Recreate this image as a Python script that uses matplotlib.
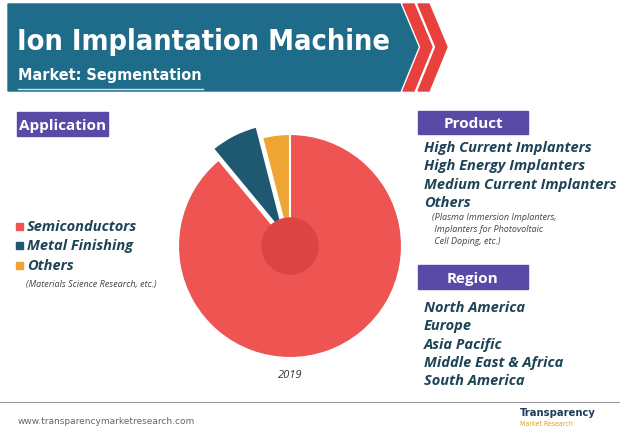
import matplotlib
matplotlib.use("Agg")
import matplotlib.pyplot as plt
from matplotlib.patches import Polygon, Rectangle, Circle

# data
SEGMENTS = ["Others", "Metal Finishing", "Semiconductors"]
SHARES = [4, 7, 89]
EXPLODE = [0, 0.11, 0]
SEG_COLOURS = ["#eea534", "#1f5871", "#ee5451"]

PRODUCTS = ["High Current Implanters", "High Energy Implanters",
            "Medium Current Implanters", "Others"]
PRODUCT_NOTE = ["(Plasma Immersion Implanters,", " Implanters for Photovoltaic",
                " Cell Doping, etc.)"]
REGIONS = ["North America", "Europe", "Asia Pacific", "Middle East & Africa", "South America"]
LEGEND_ITEMS = ["Semiconductors", "Metal Finishing", "Others"]
LEGEND_COLOURS = ["#ee5451", "#1f5871", "#eea534"]

TEAL = "#1e6c8a"
TEXT = "#1d4356"
PURPLE = "#5a4aa8"
W, H = 620, 439

fig = plt.figure(figsize=(W / 100, H / 100), dpi=100)
ax = fig.add_axes([0, 0, 1, 1])
ax.set_xlim(0, W)
ax.set_ylim(H, 0)
ax.axis("off")

# header banner
ax.add_patch(Polygon([(8, 5), (400, 5), (418, 48), (400, 92), (8, 92)], color=TEAL))
for x0 in (403, 418):
    ax.add_patch(Polygon([(x0, 5), (x0 + 11, 5), (x0 + 29, 48), (x0 + 11, 92),
                          (x0, 92), (x0 + 18, 48)], color="#e8403c"))
title_font = dict(family="DejaVu Sans", stretch="condensed", weight="bold", color="white")
renderer = fig.canvas.get_renderer()


def fit_text(x, y, s, width_px, size):
    t = ax.text(x, y, s, fontsize=size, **title_font)
    w = t.get_window_extent(renderer).width
    t.set_fontsize(size * width_px / w)
    return t


fit_text(17, 50, "Ion Implantation Machine", 373, 30)
fit_text(18, 80, "Market: Segmentation", 183, 17)
ax.plot([18, 203], [90, 90], color="#d0e4ec", lw=1)


def label_box(x, y, w, h, txt):
    ax.add_patch(Rectangle((x, y), w, h, color=PURPLE))
    ax.text(x + w / 2, y + h / 2 + 1, txt, color="white", fontsize=11,
            fontweight="bold", ha="center", va="center", family="Open Sans")


label_box(17, 113, 91, 24, "Application")
label_box(418, 112, 110, 23, "Product")
label_box(418, 266, 110, 24, "Region")

item_font = dict(family="Open Sans", style="italic", weight="bold", color=TEXT)
for i, name in enumerate(PRODUCTS):
    ax.text(424, 148 + i * 18.5, name, fontsize=10.5, va="center", **item_font)
for i, line in enumerate(PRODUCT_NOTE):
    ax.text(432, 218 + i * 12, line, fontsize=6.5, style="italic", color="#444444",
            va="center", family="Open Sans")
for i, name in enumerate(REGIONS):
    ax.text(424, 308 + i * 18.3, name, fontsize=10.5, va="center", **item_font)

# application legend
for i, (name, c) in enumerate(zip(LEGEND_ITEMS, LEGEND_COLOURS)):
    y = 227 + i * 19.5
    ax.add_patch(Rectangle((16, y - 3.5), 7, 7, color=c))
    ax.text(27, y, name, fontsize=10.5, va="center", **item_font)
ax.text(26, 285, "(Materials Science Research, etc.)", fontsize=6.5, style="italic",
        color="#444444", va="center", family="Open Sans")

ax.text(290, 376, "2019", fontsize=8, style="italic", color="#333333",
        ha="center", va="center", family="Open Sans")

# footer
ax.plot([0, W], [403, 403], color="#999999", lw=0.8)
ax.text(18, 422, "www.transparencymarketresearch.com", fontsize=6.5, color="#666666",
        va="center", family="DejaVu Sans")
ax.text(520, 413, "Transparency", fontsize=8, fontweight="bold", color="#1d3a5a",
        va="center", family="DejaVu Sans", stretch="condensed")
ax.text(520, 424, "Market Research", fontsize=5, color="#e0a020", va="center",
        family="DejaVu Sans", stretch="condensed")

# pie
R_PX, CX, CY, HALF = 112, 290, 247, 150
pax = fig.add_axes([(CX - HALF) / W, (H - CY - HALF) / H, 2 * HALF / W, 2 * HALF / H])
pax.pie(SHARES, colors=SEG_COLOURS, explode=EXPLODE, startangle=90, counterclock=True,
        wedgeprops=dict(edgecolor="white", linewidth=1.5))
pax.add_patch(Circle((0, 0), 0.25, color="#dc4444", zorder=5))
lim = HALF / R_PX
pax.set_xlim(-lim, lim)
pax.set_ylim(-lim, lim)
pax.axis("off")

fig.savefig("out.png", dpi=100)
